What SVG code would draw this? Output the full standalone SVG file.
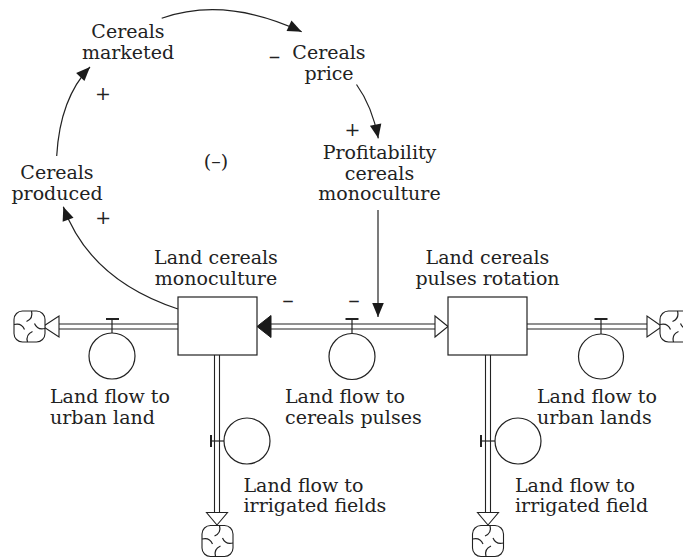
<svg xmlns="http://www.w3.org/2000/svg" xmlns:xlink="http://www.w3.org/1999/xlink" width="683" height="558" viewBox="0 0 683 558">
<style>
  text { font-family: "DejaVu Serif", "Liberation Serif", serif; font-size: 19px; fill: #222; }
  .mid { text-anchor: middle; }
  .dash { font-size: 23px; }
  .ln { fill: none; stroke: #222; stroke-width: 1.2; }
  .pipe { fill: none; stroke: #222; stroke-width: 1.1; }
  .hollow { fill: #fff; stroke: #222; stroke-width: 1.1; stroke-linejoin: miter; }
  .solid { fill: #1a1a1a; stroke: #1a1a1a; stroke-width: 1; }
  .stock { fill: #fff; stroke: #222; stroke-width: 1.2; }
  .valve { fill: #fff; stroke: #222; stroke-width: 1.2; }
  .bar { stroke: #222; stroke-width: 2; fill: none; }
  .cloud { fill: #fff; stroke: #222; stroke-width: 1.1; }
</style>
<defs>
  <marker id="ah" viewBox="-15 -7 16 14" refX="0" refY="0" markerWidth="16" markerHeight="14" markerUnits="userSpaceOnUse" orient="auto">
    <path d="M0,0 L-14,-5.8 L-14,5.8 Z" fill="#1a1a1a"/>
  </marker>
  <g id="cloudShape">
    <rect x="-15.5" y="-15.5" width="31" height="31" rx="8.5" class="cloud"/>
    <path class="ln" d="M2,-15.5 Q4,-8 -3,-5 M15.5,2 Q8,4 5,-3 M-2,15.5 Q-4,8 3,5 M-15.5,-2 Q-8,-4 -5,3"/>
  </g>
</defs>

<g id="connectors">
  <!-- causal links -->
  <path class="ln" d="M56.7,156 Q60,98 90,67" marker-end="url(#ah)"/>
  <path class="ln" d="M161.7,18.3 Q225,-4 301.7,31.7" marker-end="url(#ah)"/>
  <path class="ln" d="M356.5,84.5 Q372,106 378.3,138.3" marker-end="url(#ah)"/>
  <path class="ln" d="M178,309 Q90,280 63.3,206.7" marker-end="url(#ah)"/>
  <path class="ln" d="M378,210 L378,317" marker-end="url(#ah)"/>
  <!-- flow pipes -->
  <path class="pipe" d="M55,324 H178 M55,329 H178"/>
  <polygon class="hollow" points="43,326.5 59,316 59,337"/>
  <path class="pipe" d="M265,324 H440 M265,329 H440"/>
  <polygon class="solid" points="257,326.5 271,315.5 271,337.5"/>
  <polygon class="hollow" points="448,326.5 435,316 435,337"/>
  <path class="pipe" d="M527,324 H650 M527,329 H650"/>
  <polygon class="hollow" points="662,326.5 647,316 647,337"/>
  <path class="pipe" d="M214.5,355 V515 M219.5,355 V515"/>
  <polygon class="hollow" points="217,525 206.5,512.5 227.5,512.5"/>
  <path class="pipe" d="M485.5,355 V515 M490.5,355 V515"/>
  <polygon class="hollow" points="488,525 477.5,512.5 498.5,512.5"/>
</g>

<g id="cloud-left"><use xlink:href="#cloudShape" transform="translate(29.5,326.5)"/></g>
<g id="cloud-right"><use xlink:href="#cloudShape" transform="translate(675.5,326.5)"/></g>
<g id="cloud-bottom-1"><use xlink:href="#cloudShape" transform="translate(217.5,541)"/></g>
<g id="cloud-bottom-2"><use xlink:href="#cloudShape" transform="translate(488,541)"/></g>

<g id="stock-monoculture">
  <rect class="stock" x="178" y="297" width="79" height="58"/>
  <text class="mid" x="216" y="264">Land cereals</text>
  <text class="mid" x="216" y="285">monoculture</text>
</g>
<g id="stock-rotation">
  <rect class="stock" x="448" y="297" width="79" height="58"/>
  <text class="mid" x="487.5" y="264">Land cereals</text>
  <text class="mid" x="487.5" y="285">pulses rotation</text>
</g>

<g id="flow-urban-land">
  <path class="bar" d="M106,319 H119"/>
  <path class="ln" d="M112,319 V333"/>
  <circle class="valve" cx="112" cy="356" r="23"/>
  <text x="50" y="402.5">Land flow to</text>
  <text x="50" y="423.5">urban land</text>
</g>
<g id="flow-cereals-pulses">
  <path class="bar" d="M345.5,319 H358.5"/>
  <path class="ln" d="M352,319 V333.5"/>
  <circle class="valve" cx="352" cy="356.5" r="23"/>
  <text x="285" y="402.5">Land flow to</text>
  <text x="285" y="423.5">cereals pulses</text>
</g>
<g id="flow-urban-lands">
  <path class="bar" d="M594.5,319 H607.5"/>
  <path class="ln" d="M601,319 V334"/>
  <circle class="valve" cx="601" cy="356.5" r="22.5"/>
  <text x="537" y="402.5">Land flow to</text>
  <text x="537" y="423.5">urban lands</text>
</g>
<g id="flow-irrigated-fields">
  <path class="bar" d="M211,435 V447"/>
  <path class="ln" d="M211,441 H224"/>
  <circle class="valve" cx="247" cy="441" r="23"/>
  <text x="243.5" y="491.5">Land flow to</text>
  <text x="243.5" y="511.5">irrigated fields</text>
</g>
<g id="flow-irrigated-field">
  <path class="bar" d="M481,435 V447"/>
  <path class="ln" d="M481,441 H495"/>
  <circle class="valve" cx="518" cy="441" r="23"/>
  <text x="515" y="491.5">Land flow to</text>
  <text x="515" y="511.5">irrigated field</text>
</g>

<g id="aux-cereals-marketed">
  <text class="mid" x="128" y="37.5">Cereals</text>
  <text class="mid" x="128" y="59">marketed</text>
</g>
<g id="aux-cereals-price">
  <text class="mid" x="329" y="58.5">Cereals</text>
  <text class="mid" x="329" y="79.5">price</text>
</g>
<g id="aux-profitability">
  <text class="mid" x="379.5" y="158.5">Profitability</text>
  <text class="mid" x="379.5" y="179.5">cereals</text>
  <text class="mid" x="379.5" y="200">monoculture</text>
</g>
<g id="aux-cereals-produced">
  <text class="mid" x="57" y="178.5">Cereals</text>
  <text class="mid" x="57" y="200">produced</text>
</g>

<g id="polarities">
  <text class="mid dash" x="274.5" y="64">–</text>
  <text class="mid" x="103" y="100">+</text>
  <text class="mid" x="352.5" y="136">+</text>
  <text class="mid" x="103.3" y="223.5">+</text>
  <text class="mid" x="216" y="168">(–)</text>
  <text class="mid dash" x="288" y="307.5">–</text>
  <text class="mid dash" x="354" y="307.5">–</text>
</g>
</svg>
